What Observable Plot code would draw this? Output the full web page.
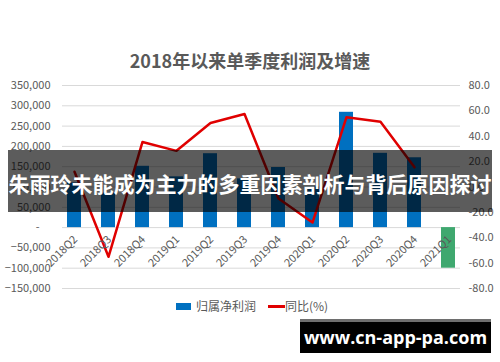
<!DOCTYPE html>
<html>
<head>
<meta charset="utf-8">
<script src="https://cdn.jsdelivr.net/npm/d3@7"></script>
<script src="https://cdn.jsdelivr.net/npm/@observablehq/plot@0.6"></script>
<style>
  html, body { margin: 0; padding: 0; background: #fff; }
  #wrap { position: relative; width: 500px; height: 362px; overflow: hidden; font-family: "Noto Sans CJK SC", "Noto Sans", sans-serif; }
  #title { position: absolute; left: 0; width: 500px; top: 47px; text-align: center; font-size: 18px; font-weight: bold; color: #595959; line-height: 26px; }
  #legend { position: absolute; top: 297px; left: 176px; font-size: 12px; color: #595959; display: flex; align-items: center; line-height: 18px; }
  #legend .sw { display: inline-block; width: 15px; height: 7px; background: #0070C0; margin-right: 5px; }
  #legend .ln { display: inline-block; width: 17px; height: 3px; background: #E00000; margin-left: 12px; }
  #band { position: absolute; left: 8px; top: 150px; width: 484px; height: 62px; background: rgba(0,0,0,0.64); color: #fff; font-weight: bold; font-size: 21px; text-align: center; line-height: 66px; white-space: nowrap; }
  #wm { position: absolute; left: 300px; top: 319px; width: 191px; height: 31px; background: #000; border-top: 3px solid #6e6e6e; color: #fff; font-weight: bold; font-size: 18px; text-align: center; line-height: 31px; font-family: "Open Sans", "Noto Sans", sans-serif; }
</style>
</head>
<body>
<div id="wrap">
  <div id="chart"></div>
  <div id="title">2018年以来单季度利润及增速</div>
  <div id="legend"><span class="sw"></span><span>归属净利润</span><span class="ln"></span><span>同比(%)</span></div>
  <div id="band">朱雨玲未能成为主力的多重因素剖析与背后原因探讨</div>
  <div id="wm">www.cn-app-pa.com</div>
</div>
<script>
const quarters = ["2018Q2","2018Q3","2018Q4","2019Q1","2019Q2","2019Q3","2019Q4","2020Q1","2020Q2","2020Q3","2020Q4","2021Q1"];
const profits = [110000, 85000, 151000, 125000, 182000, 120000, 148000, 100000, 284000, 183000, 172000, -100000];
const growth = [12, -55, 35.5, 28.5, 50.5, 57.5, -9, -28, 55, 51.5, 15.5];
const leftTicks = [-150000, -100000, -50000, 0, 50000, 100000, 150000, 200000, 250000, 300000, 350000];
const rightTicks = [-80, -60, -40, -20, 0, 20, 40, 60, 80];

// map right-axis (%) values onto the left scale: -80..80 -> -150000..350000
const toLeft = v => v * 3125 + 100000;
const fromLeft = d => (d - 100000) / 3125;

const barData = quarters.map((q, i) => ({q, v: profits[i]}));
const lineData = growth.map((v, i) => ({q: quarters[i], v}));

const chart = Plot.plot({
  width: 500,
  height: 362,
  marginTop: 85,
  marginBottom: 74,
  marginLeft: 62,
  marginRight: 40,
  style: {fontFamily: "'Noto Sans CJK SC', 'Noto Sans', sans-serif", fontSize: "11px", color: "#595959", background: "transparent"},
  x: {domain: quarters, paddingInner: 0.58, paddingOuter: 0, axis: null},
  y: {domain: [-150000, 350000]},
  color: {type: "identity"},
  marks: [
    Plot.gridY(leftTicks, {stroke: "#d9d9d9", strokeOpacity: 1}),
    Plot.axisY({ticks: leftTicks, tickSize: 0, tickPadding: 12, label: null,
      tickFormat: d => d === 0 ? "-\u2002\u2002" : d3.format(",")(d)}),
    Plot.axisY({anchor: "right", ticks: rightTicks.map(toLeft), tickSize: 0, tickPadding: 8, label: null,
      tickFormat: d => fromLeft(d).toFixed(1)}),
    Plot.barY(barData, {x: "q", y: "v", fill: d => d.v < 0 ? "#3FA86F" : "#0070C0"}),
    Plot.line(lineData, {x: "q", y: d => toLeft(d.v), stroke: "#E00000", strokeWidth: 2.5}),
    Plot.text(quarters, {x: d => d, y: 0, rotate: -45, textAnchor: "end", dx: 1, dy: 10, fill: "#595959", fontSize: 11})
  ]
});
document.getElementById("chart").appendChild(chart);
</script>
</body>
</html>
